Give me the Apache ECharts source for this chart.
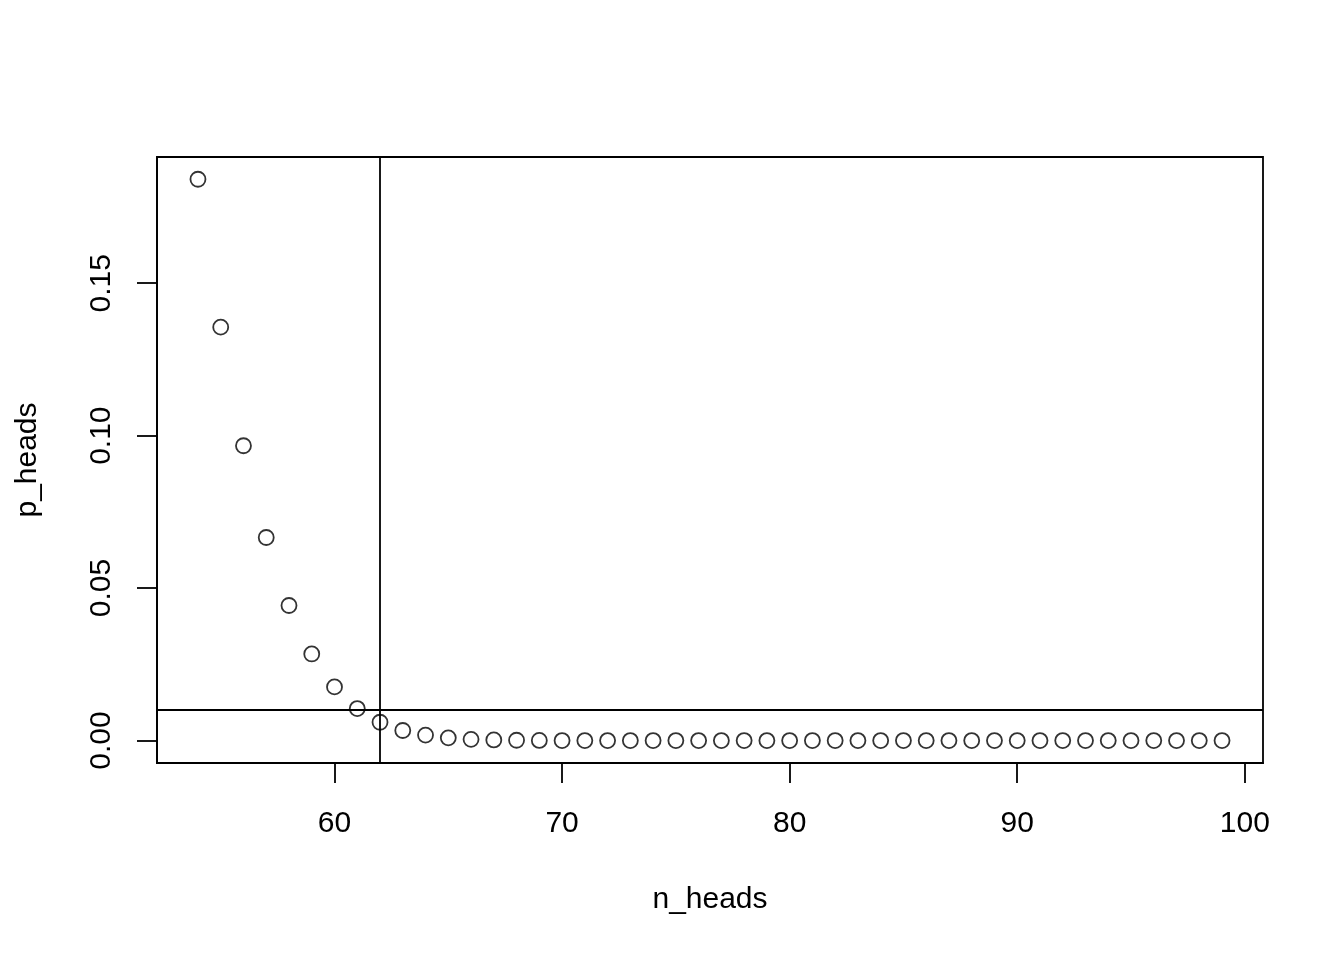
<!DOCTYPE html>
<html>
<head>
<meta charset="utf-8">
<script src="https://cdn.jsdelivr.net/npm/echarts@6/dist/echarts.min.js"></script>
<style>
  html, body { margin: 0; padding: 0; background: #fff; }
  #chart { width: 1344px; height: 960px; }
</style>
</head>
<body>
<div id="chart"></div>
<script>
// n_heads on x, p_heads on y
const nHeads = [54, 55, 56, 57, 58, 59, 60, 61, 62, 63, 64, 65, 66, 67, 68, 69,
  70, 71, 72, 73, 74, 75, 76, 77, 78, 79, 80, 81, 82, 83, 84, 85, 86, 87, 88, 89,
  90, 91, 92, 93, 94, 95, 96, 97, 98, 99];
const pHeads = [0.1841, 0.1356, 0.0967, 0.0666, 0.0443, 0.0284, 0.0176, 0.0105,
  0.0060, 0.0033, 0.0018, 0.0009, 0.0004, 0.0002, 0.0001, 0.00004,
  0, 0, 0, 0, 0, 0, 0, 0, 0, 0, 0, 0, 0, 0, 0, 0, 0, 0, 0, 0,
  0, 0, 0, 0, 0, 0, 0, 0, 0, 0];
const xTicks = [60, 70, 80, 90, 100];
const yTicks = [0, 0.05, 0.10, 0.15];
const cutoffX = 62;
const cutoffY = 0.01;

const FONT = '"Liberation Sans", Arial, Helvetica, sans-serif';
const LW = 1.8;
const chart = echarts.init(document.getElementById('chart'));

chart.setOption({
  animation: false,
  grid: {
    left: 157, right: 81, top: 157, bottom: 197,
    show: true, borderColor: '#000', borderWidth: LW, backgroundColor: 'transparent'
  },
  xAxis: {
    type: 'value',
    min: 52.2, max: 100.8,
    name: 'n_heads',
    nameLocation: 'middle',
    nameGap: 137,
    nameTextStyle: { color: '#000', fontSize: 30, fontFamily: FONT, verticalAlign: 'middle' },
    splitLine: { show: false },
    axisLine: { show: true, onZero: false, lineStyle: { color: '#000', width: LW } },
    axisTick: { show: true, inside: false, length: 20, customValues: xTicks,
      lineStyle: { color: '#000', width: LW } },
    axisLabel: { show: true, customValues: xTicks, margin: 46, color: '#000',
      fontSize: 30, fontFamily: FONT }
  },
  yAxis: {
    type: 'value',
    min: -0.00736, max: 0.1914,
    name: 'p_heads',
    nameLocation: 'middle',
    nameGap: 129,
    nameRotate: 90,
    nameTextStyle: { color: '#000', fontSize: 30, fontFamily: FONT, verticalAlign: 'middle' },
    splitLine: { show: false },
    axisLine: { show: true, onZero: false, lineStyle: { color: '#000', width: LW } },
    axisTick: { show: true, inside: false, length: 20, customValues: yTicks,
      lineStyle: { color: '#000', width: LW } },
    axisLabel: { show: true, customValues: yTicks, rotate: 90, margin: 40, color: '#000',
      fontSize: 30, fontFamily: FONT, formatter: v => v.toFixed(2) }
  },
  series: [{
    type: 'scatter',
    data: nHeads.map((n, i) => [n, pHeads[i]]),
    symbol: 'circle',
    symbolSize: 15,
    itemStyle: { color: 'rgba(0,0,0,0)', borderColor: '#000', borderWidth: 1.8 },
    markLine: {
      silent: true,
      symbol: ['none', 'none'],
      label: { show: false },
      lineStyle: { color: '#000', width: LW, type: 'solid' },
      data: [{ xAxis: cutoffX }, { yAxis: cutoffY }]
    }
  }]
});
</script>
</body>
</html>
